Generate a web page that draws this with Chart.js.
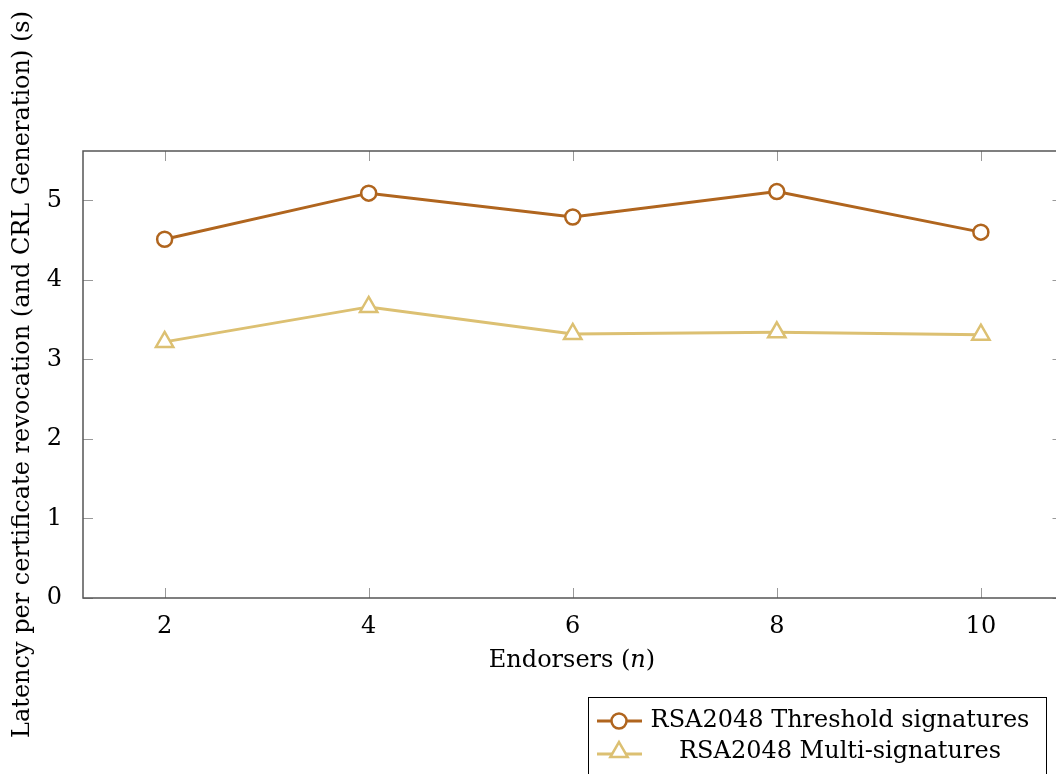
<!DOCTYPE html>
<html lang="en">
  <head>
    <meta charset="UTF-8" />
    <title>Revocation latency</title>
    <style>
      html, body { margin: 0; padding: 0; background: #fff; }
      #chart-box { width: 1056px; height: 774px; overflow: hidden; }
    </style>
  </head>
  <body>
    <div id="chart-box"><canvas id="myChart" width="1075" height="774"></canvas></div>
    <script src="https://cdn.jsdelivr.net/npm/chart.js"></script>
    <script>
      const endorsers = [2, 4, 6, 8, 10]
      const thresholdLatency = [4.51, 5.09, 4.79, 5.11, 4.6]
      const multiLatency = [3.22, 3.66, 3.32, 3.34, 3.31]
      const xTicks = [2, 4, 6, 8, 10]
      const yTicks = [0, 1, 2, 3, 4, 5]
      const seriesNames = ['RSA2048 Threshold signatures', 'RSA2048 Multi-signatures']
      const yTitle = 'Latency per certificate revocation (and CRL Generation) (s)'

      const FONT = '"DejaVu Serif", serif'
      const brown = '#b0651e'
      const gold = '#dcc072'

      const toPoints = (ys) => endorsers.map((x, i) => ({ x: x, y: ys[i] }))

      const drawMarker = (ctx, style, x, y, r, color) => {
        ctx.beginPath()
        if (style === 'circle') {
          ctx.arc(x, y, r, 0, Math.PI * 2)
        } else {
          ctx.moveTo(x, y - r)
          ctx.lineTo(x + r * 0.866, y + r * 0.5)
          ctx.lineTo(x - r * 0.866, y + r * 0.5)
          ctx.closePath()
        }
        ctx.fillStyle = '#fff'
        ctx.fill()
        ctx.strokeStyle = color
        ctx.lineWidth = 2.5
        ctx.stroke()
      }

      // pgfplots-like frame, inward ticks, x label with italic n, boxed legend
      const frame = {
        id: 'frame',
        beforeDatasetsDraw(chart) {
          const { ctx, chartArea: a, scales: { x, y } } = chart
          ctx.save()
          ctx.strokeStyle = '#999'
          ctx.lineWidth = 1
          ctx.beginPath()
          xTicks.forEach((v) => {
            const px = Math.round(x.getPixelForValue(v)) + 0.5
            ctx.moveTo(px, a.bottom); ctx.lineTo(px, a.bottom - 10)
            ctx.moveTo(px, a.top); ctx.lineTo(px, a.top + 10)
          })
          yTicks.forEach((v) => {
            const py = Math.round(y.getPixelForValue(v)) + 0.5
            ctx.moveTo(a.left, py); ctx.lineTo(a.left + 10, py)
            ctx.moveTo(a.right, py); ctx.lineTo(a.right - 10, py)
          })
          ctx.stroke()
          ctx.strokeStyle = '#555'
          ctx.lineWidth = 1.5
          ctx.strokeRect(a.left, a.top, a.right - a.left, a.bottom - a.top)
          ctx.restore()
        },
        afterDraw(chart) {
          const { ctx } = chart
          ctx.save()
          // x axis title
          const parts = [['Endorsers (', ''], ['n', 'italic '], [')', '']]
          let total = 0
          parts.forEach((p) => { ctx.font = p[1] + '24px ' + FONT; total += ctx.measureText(p[0]).width })
          let cx = 572 - total / 2
          ctx.fillStyle = '#000'
          ctx.textBaseline = 'alphabetic'
          ctx.textAlign = 'left'
          parts.forEach((p) => {
            ctx.font = p[1] + '24px ' + FONT
            ctx.fillText(p[0], cx, 667)
            cx += ctx.measureText(p[0]).width
          })

          // legend
          ctx.strokeStyle = '#000'
          ctx.lineWidth = 1
          ctx.strokeRect(588.5, 697.5, 458, 100)
          const rows = [721, 754]
          const bases = [727, 758]
          chart.data.datasets.forEach((ds, i) => {
            ctx.strokeStyle = ds.borderColor
            ctx.lineWidth = 3
            ctx.beginPath()
            ctx.moveTo(597, rows[i]); ctx.lineTo(642, rows[i])
            ctx.stroke()
            drawMarker(ctx, ds.pointStyle, 619, rows[i] - (ds.pointStyle === 'triangle' ? 2 : 0), ds.pointRadius, ds.borderColor)
            ctx.fillStyle = '#000'
            ctx.font = '24px ' + FONT
            ctx.textAlign = 'center'
            ctx.fillText(ds.label, 840, bases[i])
          })
          ctx.restore()
        }
      }

      const ctx = document.getElementById('myChart')
      const myChart = new Chart(ctx, {
        type: 'line',
        data: {
          datasets: [
            {
              label: seriesNames[0],
              data: toPoints(thresholdLatency),
              borderColor: brown,
              borderWidth: 3,
              pointStyle: 'circle',
              pointRadius: 7.5,
              pointBorderWidth: 2.5,
              pointBackgroundColor: '#fff',
              tension: 0
            },
            {
              label: seriesNames[1],
              data: toPoints(multiLatency),
              borderColor: gold,
              borderWidth: 3,
              pointStyle: 'triangle',
              pointRadius: 10,
              pointBorderWidth: 2.5,
              pointBackgroundColor: '#fff',
              tension: 0
            }
          ]
        },
        options: {
          responsive: false,
          animation: false,
          layout: { padding: { top: 151, right: 8, left: 0, bottom: 0 } },
          plugins: {
            legend: { display: false },
            tooltip: { enabled: false }
          },
          scales: {
            x: {
              type: 'linear',
              min: 1.2,
              max: 10.8,
              grid: { display: false },
              border: { display: false },
              afterBuildTicks: (s) => { s.ticks = xTicks.map((v) => ({ value: v })) },
              afterFit: (s) => { s.height = 176; s.paddingLeft = 0; s.paddingRight = 0 },
              ticks: { padding: 6, color: '#000', font: { family: FONT, size: 24 } }
            },
            y: {
              min: 0,
              max: 5.62,
              grid: { display: false },
              border: { display: false },
              afterBuildTicks: (s) => { s.ticks = yTicks.map((v) => ({ value: v })) },
              afterFit: (s) => { s.width = 83 },
              ticks: { padding: 13, color: '#000', font: { family: FONT, size: 24 } },
              title: {
                display: true,
                text: yTitle,
                padding: 8,
                color: '#000',
                font: { family: FONT, size: 24 }
              }
            }
          }
        },
        plugins: [frame]
      })
    </script>
  </body>
</html>
